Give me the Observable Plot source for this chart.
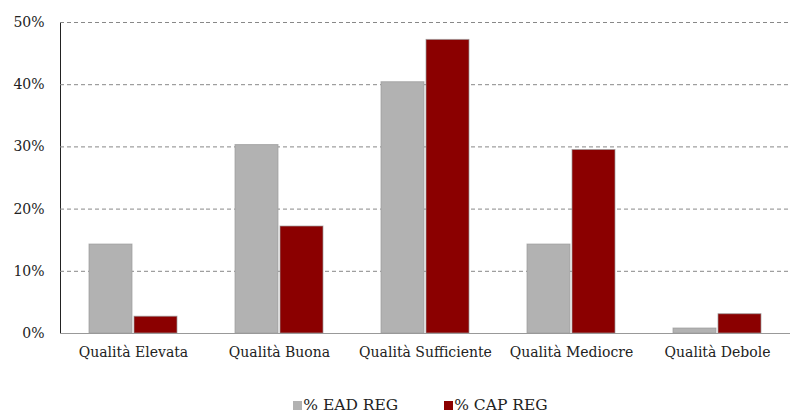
<!DOCTYPE html>
<html>
<head>
<meta charset="utf-8">
<script src="https://cdn.jsdelivr.net/npm/d3@7"></script>
<script src="https://cdn.jsdelivr.net/npm/@observablehq/plot@0.6"></script>
<style>
  body { margin: 0; background: #fff; font-family: "DejaVu Serif", serif; }
  svg, svg text { font-family: "DejaVu Serif", serif !important; }
  #legend { display: flex; justify-content: center; gap: 46px; font-size: 15.5px; color: #222; line-height: 20px; padding-left: 50px; }
  #legend span.sw { display: inline-block; width: 9px; height: 9px; margin-right: 1px; vertical-align: 0px; }
</style>
</head>
<body>
<div id="chart"></div>
<div id="legend"></div>
<script>
const categories = ["Qualità Elevata", "Qualità Buona", "Qualità Sufficiente", "Qualità Mediocre", "Qualità Debole"];
const seriesNames = ["% EAD REG", "% CAP REG"];
const eadValues = [0.143, 0.303, 0.404, 0.143, 0.008];
const capValues = [0.027, 0.172, 0.472, 0.295, 0.031];
const seriesColors = ["#b2b2b2", "#8b0000"];
const yTicks = [0, 0.1, 0.2, 0.3, 0.4, 0.5];

const data = [];
categories.forEach((c, i) => {
  data.push({cat: c, series: seriesNames[0], value: eadValues[i]});
  data.push({cat: c, series: seriesNames[1], value: capValues[i]});
});

const chart = Plot.plot({
  width: 791,
  height: 395,
  marginTop: 22,
  marginBottom: 62,
  marginLeft: 60,
  marginRight: 1,
  style: {fontSize: "14px", color: "#222", background: "#fff"},
  fx: {domain: categories, padding: 0, label: null, tickSize: 0, tickPadding: 14, axis: "bottom"},
  x: {domain: seriesNames, axis: null, paddingInner: 0.044, paddingOuter: 0.63},
  y: {domain: [0, 0.5], ticks: yTicks, tickFormat: d => Math.round(d * 100) + "%", tickSize: 0, tickPadding: 16, label: null, line: true},
  color: {domain: seriesNames, range: seriesColors},
  marks: [
    Plot.ruleY(yTicks.filter(d => d > 0), {stroke: "#888", strokeDasharray: "4,3", strokeWidth: 1}),
    Plot.barY(data, {fx: "cat", x: "series", y: "value", fill: "series", stroke: "#9a9a9a", strokeOpacity: 0.7, strokeWidth: 1}),
    Plot.ruleY([0], {stroke: "#999", strokeWidth: 1.2})
  ]
});
chart.querySelectorAll("[aria-label='y-axis'] path, [aria-label='y-axis'] line").forEach(e => e.setAttribute("stroke", "#999"));
document.getElementById("chart").appendChild(chart);

const legend = document.getElementById("legend");
seriesNames.forEach((s, i) => {
  const item = document.createElement("div");
  const sw = document.createElement("span");
  sw.className = "sw";
  sw.style.background = seriesColors[i];
  item.appendChild(sw);
  item.appendChild(document.createTextNode(s));
  legend.appendChild(item);
});
</script>
</body>
</html>
